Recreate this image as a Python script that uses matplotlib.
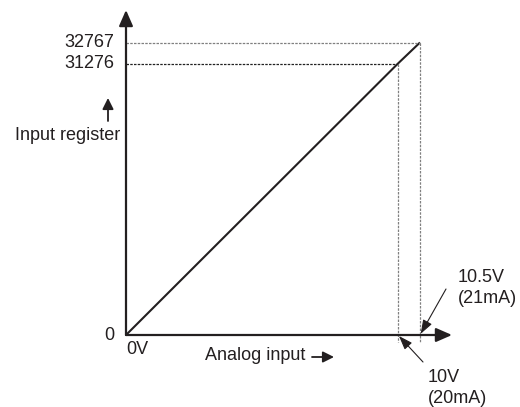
import numpy as np
import matplotlib
matplotlib.use("Agg")
import matplotlib.pyplot as plt

# valores del diagrama
volts = [0, 10, 10.5]
registro = [0, 31276, 32767]
etiquetas_v = ["10V\n(20mA)", "10.5V\n(21mA)"]
etiquetas_y = ["0", "31276", "32767"]

plt.rcParams['font.family'] = ['Liberation Sans', 'DejaVu Sans']
tinta = '#231f20'
fs = 13

# el dibujo es esquematico: escala lineal por tramos (pixeles por unidad)
def fx(v):
    v = np.asarray(v, float)
    return np.where(v <= volts[1], v * 27.2, 272 + (v - volts[1]) * 44)

def ix(p):
    p = np.asarray(p, float)
    return np.where(p <= 272, p / 27.2, volts[1] + (p - 272) / 44)

def fy(r):
    r = np.asarray(r, float)
    return np.where(r <= registro[1], r * 271.5 / registro[1],
                    271.5 + (r - registro[1]) * 21 / (registro[2] - registro[1]))

def iy(p):
    p = np.asarray(p, float)
    return np.where(p <= 271.5, p * registro[1] / 271.5,
                    registro[1] + (p - 271.5) * (registro[2] - registro[1]) / 21)

fig = plt.figure(figsize=(5.2, 4.07), dpi=100)
ax = fig.add_axes([0, 0, 1, 1])
ax.set_xscale('function', functions=(fx, ix))
ax.set_yscale('function', functions=(fy, iy))
ax.set_xlim(float(ix(-126)), float(ix(394)))
ax.set_ylim(float(iy(-72)), float(iy(335)))
ax.axis('off')

# ejes con flecha (punta en pixeles de la figura)
flecha = dict(arrowstyle='-|>,head_length=0.8,head_width=0.35', color=tinta,
              lw=1.6, mutation_scale=12, shrinkA=0, shrinkB=0)
ax.annotate('', xy=(452, 72), xycoords='figure pixels', xytext=(0, 0),
            textcoords='data', arrowprops=flecha)
ax.annotate('', xy=(126, 397), xycoords='figure pixels', xytext=(0, 0),
            textcoords='data', arrowprops=flecha)

# recta de conversion
ax.plot(volts, registro, color=tinta, lw=1.5, solid_capstyle='butt')

# lineas de referencia punteadas
ybajo = float(iy(-7))
punteada = dict(lw=0.9, ls=(0, (2, 1)))
ax.plot([0, volts[2]], [registro[2], registro[2]], color='#808080', **punteada)
ax.plot([0, volts[1]], [registro[1], registro[1]], color='#222222', **punteada)
ax.plot([volts[2], volts[2]], [registro[2], ybajo], color='#808080', **punteada)
ax.plot([volts[1], volts[1]], [registro[1], ybajo], color='#808080', **punteada)

# etiquetas del eje y
for val, txt in zip(registro, etiquetas_y):
    ax.annotate(txt, xy=(0, val), xytext=(-12, 0), textcoords='offset pixels',
                ha='right', va='center', fontsize=fs, color=tinta)
ax.annotate('0V', xy=(0, 0), xytext=(0, -15), textcoords='offset pixels',
            ha='left', va='center', fontsize=fs, color=tinta)

# titulos de los ejes
chica = dict(arrowstyle='-|>,head_length=0.6,head_width=0.3', color=tinta,
             lw=1.3, mutation_scale=11, shrinkA=0, shrinkB=0)
ax.annotate('Input register', xy=(0, 0), xytext=(-6, 200), textcoords='offset pixels',
            ha='right', va='center', fontsize=fs, color=tinta)
ax.annotate('', xy=(108, 309), xycoords='figure pixels', xytext=(108, 286),
            textcoords='figure pixels', arrowprops=chica)
ax.annotate('Analog input', xy=(0, 0), xytext=(129, -21), textcoords='offset pixels',
            ha='center', va='center', fontsize=fs, color=tinta)
ax.annotate('', xy=(334, 50), xycoords='figure pixels', xytext=(312, 50),
            textcoords='figure pixels', arrowprops=chica)

# anotaciones de 10V y 10.5V
punta = dict(arrowstyle='-|>,head_length=0.7,head_width=0.25', color=tinta,
             lw=0.8, mutation_scale=12, shrinkA=0, shrinkB=1)
ax.annotate('', xy=(volts[2], 0), xytext=(26, 46), textcoords='offset pixels',
            arrowprops=punta)
ax.annotate(etiquetas_v[1], xy=(volts[2], 0), xytext=(38, 47), textcoords='offset pixels',
            ha='left', va='center', fontsize=fs, color=tinta, linespacing=1.25)
ax.annotate('', xy=(volts[1], 0), xytext=(25, -27), textcoords='offset pixels',
            arrowprops=punta)
ax.annotate(etiquetas_v[0], xy=(volts[1], 0), xytext=(30, -53), textcoords='offset pixels',
            ha='left', va='center', fontsize=fs, color=tinta, linespacing=1.25)

fig.savefig('out.png', dpi=100)
